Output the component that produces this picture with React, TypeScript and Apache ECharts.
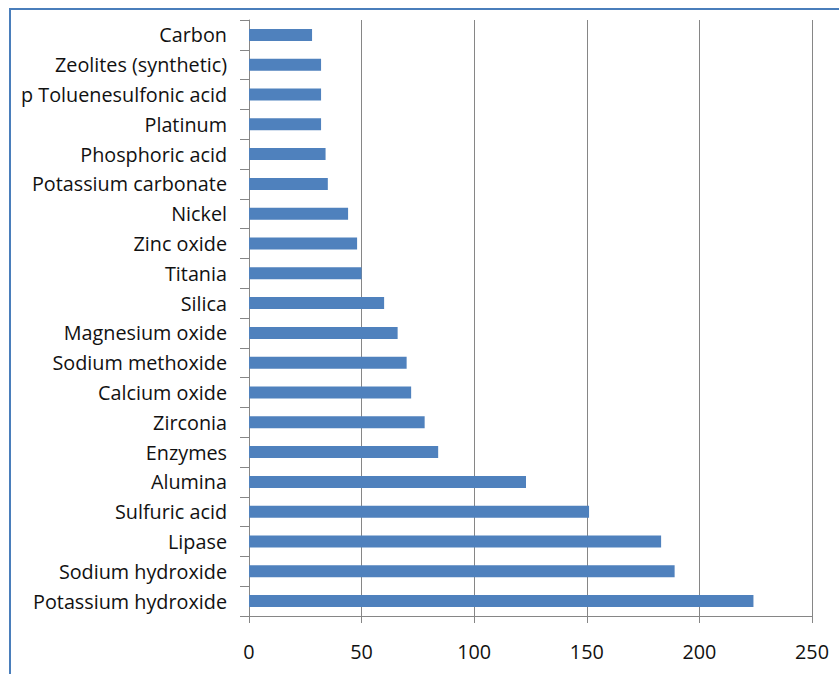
import React, { useEffect, useRef } from "react";
import * as echarts from "echarts";

const categories = [
  "Potassium hydroxide",
  "Sodium hydroxide",
  "Lipase",
  "Sulfuric acid",
  "Alumina",
  "Enzymes",
  "Zirconia",
  "Calcium oxide",
  "Sodium methoxide",
  "Magnesium oxide",
  "Silica",
  "Titania",
  "Zinc oxide",
  "Nickel",
  "Potassium carbonate",
  "Phosphoric acid",
  "Platinum",
  "p Toluenesulfonic acid",
  "Zeolites (synthetic)",
  "Carbon",
];

const values = [224, 189, 183, 151, 123, 84, 78, 72, 70, 66, 60, 50, 48, 44, 35, 34, 32, 32, 32, 28];

const xMin = 0;
const xMax = 250;
const xInterval = 50;

export default function App() {
  const ref = useRef<HTMLDivElement>(null);
  useEffect(() => {
    if (!ref.current) return;
    const chart = echarts.init(ref.current, undefined, { renderer: "svg" });
    const font = "'Open Sans', 'Noto Sans', sans-serif";
    chart.setOption({
      animation: false,
      backgroundColor: "#ffffff",
      graphic: [
        {
          type: "rect",
          shape: { x: 10, y: 9, width: 900, height: 900 },
          style: { fill: "none", stroke: "#4A7EBB", lineWidth: 2 },
          silent: true,
          z: 100,
        },
      ],
      grid: { left: 249, right: 27, top: 20, bottom: 58, containLabel: false },
      xAxis: {
        type: "value",
        min: xMin,
        max: xMax,
        interval: xInterval,
        axisLine: { show: true, lineStyle: { color: "#868686", width: 1 } },
        axisTick: { show: true, length: 7, lineStyle: { color: "#868686" } },
        splitLine: { show: true, lineStyle: { color: "#868686", width: 1 } },
        axisLabel: { color: "#111", fontFamily: font, fontSize: 19.8, margin: 25 },
      },
      yAxis: {
        type: "category",
        data: categories,
        axisLine: { show: true, lineStyle: { color: "#868686", width: 1 } },
        axisTick: { show: true, length: 9, alignWithLabel: false, lineStyle: { color: "#868686" } },
        splitLine: { show: false },
        axisLabel: { color: "#111", fontFamily: font, fontSize: 19.8, margin: 22 },
      },
      series: [
        {
          type: "bar",
          data: values,
          barWidth: 12,
          itemStyle: { color: "#4F81BD" },
        },
      ],
    });
    return () => chart.dispose();
  }, []);
  return (
    <div
      ref={ref}
      style={{ position: "fixed", left: 0, top: 0, width: 839, height: 674 }}
    />
  );
}
